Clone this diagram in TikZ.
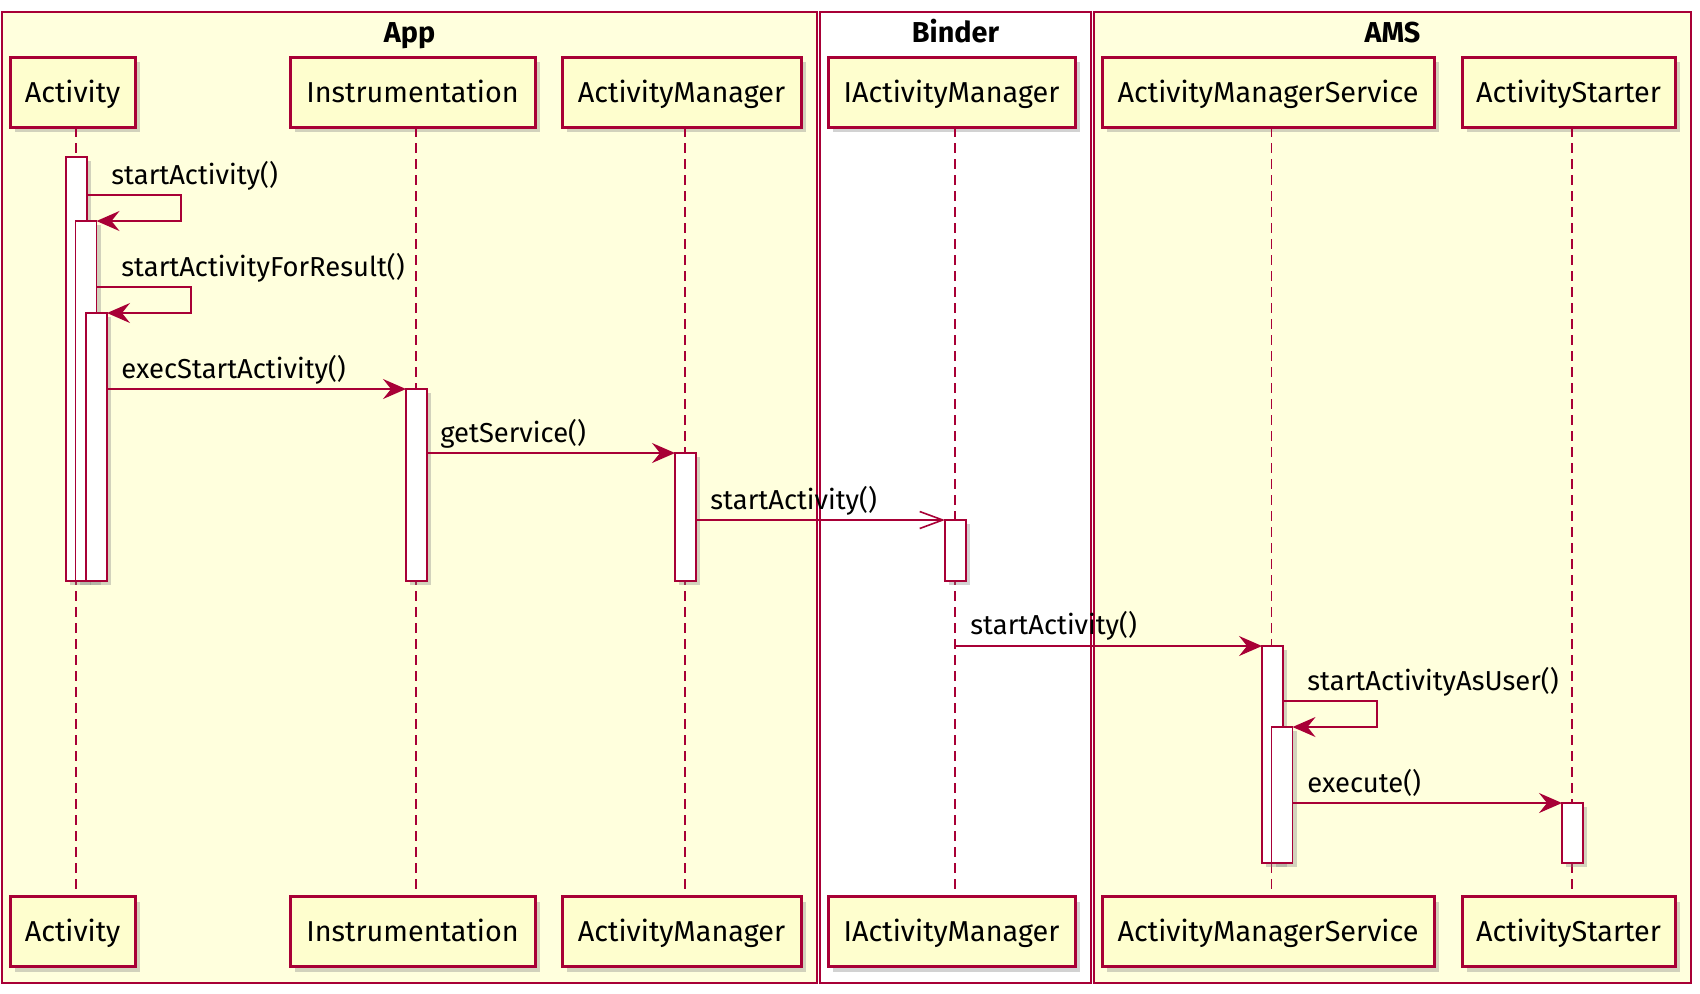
\documentclass[tikz,border=0pt]{standalone}
\usepackage{fontspec}
\setmainfont{Fira Sans}
\usetikzlibrary{arrows.meta,shadows}
\definecolor{umlred}{HTML}{A80036}
\definecolor{umlfill}{HTML}{FEFECE}
\definecolor{umlbox}{HTML}{FFFFDD}

\begin{document}
\begin{tikzpicture}[x=0.5pt,y=-0.5pt,
part/.style={draw=umlred, line width=1.5pt, fill=umlfill, minimum height=35pt, inner sep=0pt, outer sep=0pt, text height=10pt, text depth=0pt, font=\fontsize{14.4}{17}\selectfont, drop shadow={shadow xshift=2.5pt, shadow yshift=-2.5pt, opacity=0.35}},
bar/.style={draw=umlred, line width=0.8pt, fill=white, minimum width=10.5pt, anchor=north, inner sep=0pt, outer sep=0pt, drop shadow={shadow xshift=2pt, shadow yshift=-2pt, opacity=0.35}},
lifeline/.style={draw=umlred, line width=0.8pt, dash pattern=on 5pt off 3pt},
msg/.style={draw=umlred, line width=0.8pt, -{Stealth[length=11.5pt, width=10pt, inset=4pt]}},
asyncmsg/.style={draw=umlred, line width=0.8pt, -{Straight Barb[length=11.5pt, width=8.5pt]}},
lbl/.style={anchor=base west, inner sep=0pt, font=\fontsize{13.7}{16}\selectfont},
frame/.style={draw=umlred, line width=0.6pt},
title/.style={anchor=base, inner sep=0pt, font=\fontsize{14.4}{17}\selectfont\bfseries}]

\useasboundingbox (0,0) rectangle (1700,993);

% STEP 1: The three group frames and their titles.
\draw[frame, fill=umlbox] (2,12) rectangle (817,983);
\draw[frame, fill=white] (820,12) rectangle (1091,983);
\draw[frame, fill=umlbox] (1094,12) rectangle (1691,983);
\node[title] (tApp) at (409.5,42) {App};
\node[title] (tBinder) at (955.5,42) {Binder};
\node[title] (tAMS) at (1392.5,42) {AMS};

% STEP 2: Participants, on top and at the bottom.
\node[part, minimum width=62.5pt] (ActT) at (72.5,92) {Activity};
\node[part, minimum width=122.5pt] (InsT) at (412.5,92) {Instrumentation};
\node[part, minimum width=119.5pt] (AMT) at (681.5,92) {ActivityManager};
\node[part, minimum width=123.5pt] (IAMT) at (951.5,92) {IActivityManager};
\node[part, minimum width=166pt] (AMST) at (1268,92) {ActivityManagerService};
\node[part, minimum width=106.5pt] (AST) at (1568.5,92) {ActivityStarter};

\node[part, minimum width=62.5pt] (ActB) at (72.5,931.5) {Activity};
\node[part, minimum width=122.5pt] (InsB) at (412.5,931.5) {Instrumentation};
\node[part, minimum width=119.5pt] (AMB) at (681.5,931.5) {ActivityManager};
\node[part, minimum width=123.5pt] (IAMB) at (951.5,931.5) {IActivityManager};
\node[part, minimum width=166pt] (AMSB) at (1268,931.5) {ActivityManagerService};
\node[part, minimum width=106.5pt] (ASB) at (1568.5,931.5) {ActivityStarter};

% STEP 3: Lifelines (a little to the right of the box centres).
\coordinate (lAct) at ([xshift=1.75pt]ActT.south);
\coordinate (lIns) at ([xshift=1.75pt]InsT.south);
\coordinate (lAM) at ([xshift=1.75pt]AMT.south);
\coordinate (lIAM) at ([xshift=1.75pt]IAMT.south);
\coordinate (lAMS) at ([xshift=1.75pt]AMST.south);
\coordinate (lAS) at ([xshift=1.75pt]AST.south);
\draw[lifeline] (lAct) -- (lAct |- ActB.north);
\draw[lifeline] (lIns) -- (lIns |- InsB.north);
\draw[lifeline] (lAM) -- (lAM |- AMB.north);
\draw[lifeline] (lIAM) -- (lIAM |- IAMB.north);
\draw[lifeline] (lAMS) -- (lAMS |- AMSB.north);
\draw[lifeline] (lAS) -- (lAS |- ASB.north);

% STEP 4: Activation bars.
\node[bar, minimum height=212pt] (act1) at (76.5,157) {};
\node[bar, minimum height=180pt] (act2) at (86,221) {};
\node[bar, minimum height=134pt] (act3) at (96.5,313) {};
\node[bar, minimum height=96pt] (ins1) at (416.5,389) {};
\node[bar, minimum height=64pt] (am1) at (685.5,453) {};
\node[bar, minimum height=30.5pt] (iam1) at (955.5,520) {};
\node[bar, minimum height=108.5pt] (ams1) at (1272.5,646) {};
\node[bar, minimum height=68pt] (ams2) at (1282,727) {};
\node[bar, minimum height=30pt] (st1) at (1572.5,803) {};

% STEP 5: Messages.
\coordinate (s1) at (181,195);
\draw[msg] (act1.east |- s1) -- (s1) |- (act2.north east);
\coordinate (s2) at (191,287);
\draw[msg] (act2.east |- s2) -- (s2) |- (act3.north east);
\draw[msg] (act3.east |- ins1.north) -- (ins1.north west);
\draw[msg] (ins1.east |- am1.north) -- (am1.north west);
\draw[asyncmsg] (am1.east |- iam1.north) -- (iam1.north west);
\draw[msg] (lIAM |- ams1.north) -- (ams1.north west);
\coordinate (s3) at (1377,701);
\draw[msg] (ams1.east |- s3) -- (s3) |- (ams2.north east);
\draw[msg] (ams2.east |- st1.north) -- (st1.north west);

% STEP 6: Message labels.
\node[lbl] (l1) at (111,184) {startActivity()};
\node[lbl] (l2) at (121,276) {startActivityForResult()};
\node[lbl] (l3) at (121,378) {execStartActivity()};
\node[lbl] (l4) at (440,442) {getService()};
\node[lbl] (l5) at (710,509) {startActivity()};
\node[lbl] (l6) at (970,634) {startActivity()};
\node[lbl] (l7) at (1307,690) {startActivityAsUser()};
\node[lbl] (l8) at (1307,792) {execute()};

\end{tikzpicture}
\end{document}
